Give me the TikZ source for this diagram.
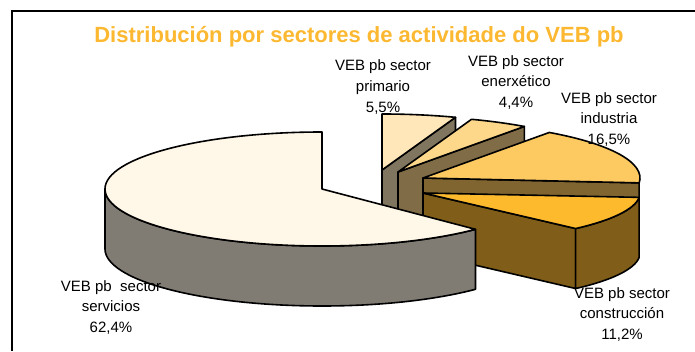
\documentclass[tikz,border=0pt]{standalone}
\usepackage{fontspec}
\setmainfont{Liberation Sans}
\usetikzlibrary{calc}
\definecolor{servtop}{RGB}{255,247,231}
\definecolor{servside}{RGB}{128,123,115}
\definecolor{primtop}{RGB}{255,231,186}
\definecolor{primside}{RGB}{128,117,94}
\definecolor{enertop}{RGB}{254,216,138}
\definecolor{enerside}{RGB}{128,108,70}
\definecolor{indtop}{RGB}{253,202,98}
\definecolor{indside}{RGB}{128,101,49}
\definecolor{contop}{RGB}{253,186,45}
\definecolor{conside}{RGB}{128,93,24}
\definecolor{titleorange}{RGB}{251,184,48}
% #1 centre, #2 start angle, #3 end angle, #4 rx, #5 ry, #6 fill
\newcommand\slicetop[6]{%
  \filldraw[face,fill=#6] (#1) -- ($(#1)+(#2:#4pt and #5pt)$)
    arc[start angle=#2,end angle=#3,x radius=#4pt,y radius=#5pt] -- cycle;}
% #1 centre, #2 angle, #3 rx, #4 ry, #5 fill
\newcommand\slicecut[5]{%
  \filldraw[face,fill=#5] (#1) -- ($(#1)+(#2:#3pt and #4pt)$)
    -- ($(#1)+(#2:#3pt and #4pt)+(0,-60pt)$) -- ($(#1)+(0,-60pt)$) -- cycle;}
% #1 centre, #2 start, #3 end, #4 rx, #5 ry, #6 fill
\newcommand\sliceouter[6]{%
  \filldraw[face,fill=#6] ($(#1)+(#2:#4pt and #5pt)$)
    arc[start angle=#2,end angle=#3,x radius=#4pt,y radius=#5pt] -- ++(0,-60pt)
    arc[start angle=#3,end angle=#2,x radius=#4pt,y radius=#5pt] -- cycle;}
\begin{document}
\begin{tikzpicture}[x=1pt,y=1pt,
  face/.style={draw=black,line width=1.6pt,line join=round},
  lbl/.style={font=\fontsize{15}{20.8}\selectfont,align=center,anchor=north,inner sep=0pt,text=black},
  ttl/.style={font=\fontsize{22}{24}\selectfont\bfseries,text=titleorange,anchor=base,inner sep=0pt}]
\useasboundingbox (0,0) rectangle (695,351);
\draw[line width=1.2pt] (695,340) -- (12,340) -- (12,0);

\coordinate (cprim) at (382,181);
\coordinate (cener) at (398,179);
\coordinate (cind) at (423,173);
\coordinate (ccon) at (423,158);
\coordinate (cserv) at (322,162);

% primario
\slicecut{cprim}{70.2}{217}{56}{primside}
\slicetop{cprim}{70.2}{90}{217}{56}{primtop}
% enerxetico
\slicecut{cener}{54.4}{217}{56}{enerside}
\slicetop{cener}{54.4}{70.2}{217}{56}{enertop}
% industria
\slicecut{cind}{-5}{217}{56}{indside}
\slicetop{cind}{-5}{54.4}{217}{56}{indtop}
% construccion
\slicecut{ccon}{-45.3}{217}{50}{conside}
\sliceouter{ccon}{-45.3}{-5}{217}{50}{conside}
\slicetop{ccon}{-45.3}{-5}{217}{50}{contop}
% servicios
\sliceouter{cserv}{180}{315}{217}{57}{servside}
\slicetop{cserv}{90}{315}{217}{57}{servtop}

\node[ttl] (title) at (359,308) {Distribución por sectores de actividade do VEB pb};
\node[lbl] (lprim) at (383,291.5) {VEB pb sector\\primario\\5,5\%};
\node[lbl] (lener) at (516,296) {VEB pb sector\\enerxético\\4,4\%};
\node[lbl] (lind) at (609,259) {VEB pb sector\\industria\\16,5\%};
\node[lbl] (lserv) at (111,71) {VEB pb\ \ sector\\servicios\\62,4\%};
\node[lbl] (lcon) at (622,64) {VEB pb sector\\construcción\\11,2\%};
\end{tikzpicture}
\end{document}
